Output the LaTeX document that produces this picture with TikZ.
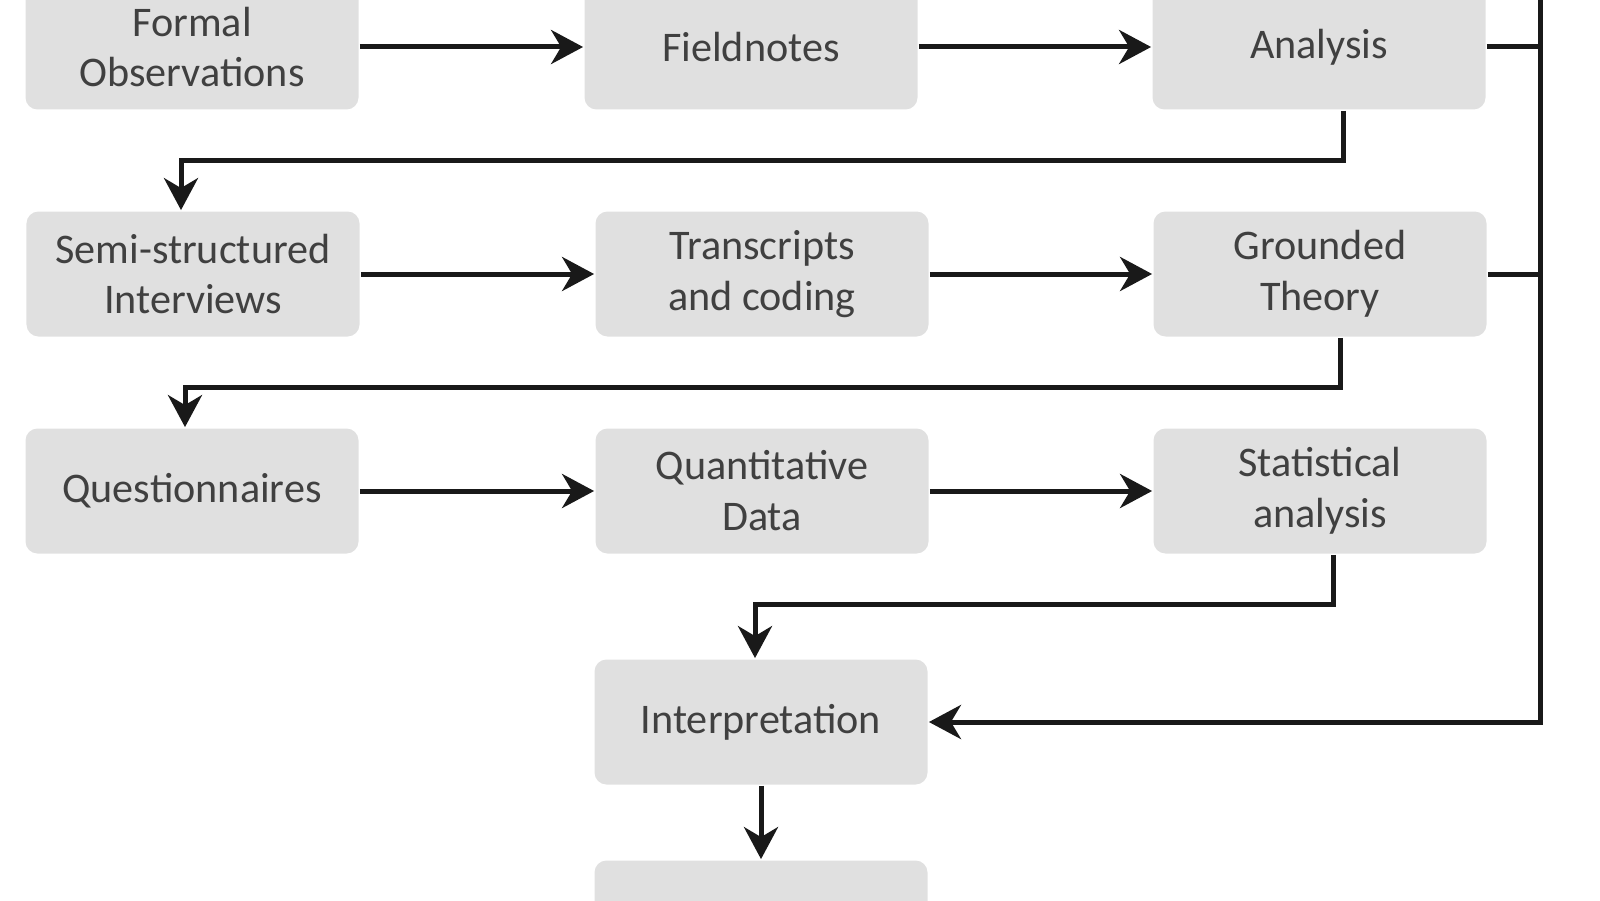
\documentclass[tikz,border=0pt]{standalone}
\usepackage{fontspec}
\setmainfont{Carlito}
\usetikzlibrary{arrows.meta}

\begin{document}
\begin{tikzpicture}[thick,
    stage/.style = {rectangle, rounded corners=1.2mm,
        fill=black!12, text=black!75,
        minimum width = 3.33cm, minimum height = 1.25cm,
        align=center, font=\fontsize{12}{14.5}\selectfont},
    flow/.style = {line width=0.5mm, draw=black!90,
        -{Stealth[length=3.2mm, width=3.4mm, inset=1mm]}},
    link/.style = {line width=0.5mm, draw=black!90}]

\useasboundingbox (0,0) rectangle (16,9);

% Row 1
\node[stage] (formal) at (1.92,8.53) {Formal\\Observations};
\node[stage] (fieldnotes) at (7.51,8.53) {Fieldnotes};
\node[stage] (analysis) at (13.19,8.53) {Analysis};

% Row 2
\node[stage] (semi) at (1.93,6.26) {Semi-structured\\Interviews};
\node[stage] (transcripts) at (7.62,6.26) {Transcripts\\and coding};
\node[stage] (grounded) at (13.2,6.26) {Grounded\\Theory};

% Row 3
\node[stage] (questionnaires) at (1.92,4.09) {Questionnaires};
\node[stage] (quantitative) at (7.62,4.09) {Quantitative\\Data};
\node[stage] (statistical) at (13.2,4.09) {Statistical\\analysis};

% Interpretation and the next stage
\node[stage] (interp) at (7.61,1.78) {Interpretation};
\node[stage] (next) at (7.61,-0.23) {};

% Arrows along the rows
\draw[flow] (formal) -- (fieldnotes);
\draw[flow] (fieldnotes) -- (analysis);
\draw[flow] (semi) -- (transcripts);
\draw[flow] (transcripts) -- (grounded);
\draw[flow] (questionnaires) -- (quantitative);
\draw[flow] (quantitative) -- (statistical);

% Arrows between the rows
\draw[flow] ([xshift=2.4mm]analysis.south) -- ++(0,-0.5)
    -| ([xshift=-1.2mm]semi.north);
\draw[flow] ([xshift=2mm]grounded.south) -- ++(0,-0.5)
    -| ([xshift=-0.7mm]questionnaires.north);
\draw[flow] ([xshift=1.3mm]statistical.south) -- ++(0,-0.5)
    -| ([xshift=-0.6mm]interp.north);
\draw[flow] (interp) -- (next);

% Line on the right
\coordinate (bus) at (15.4,9.3);
\draw[link] (analysis.east) -- (analysis.east -| bus);
\draw[link] (grounded.east) -- (grounded.east -| bus);
\draw[flow] (bus) |- (interp.east);
\end{tikzpicture}
\end{document}
